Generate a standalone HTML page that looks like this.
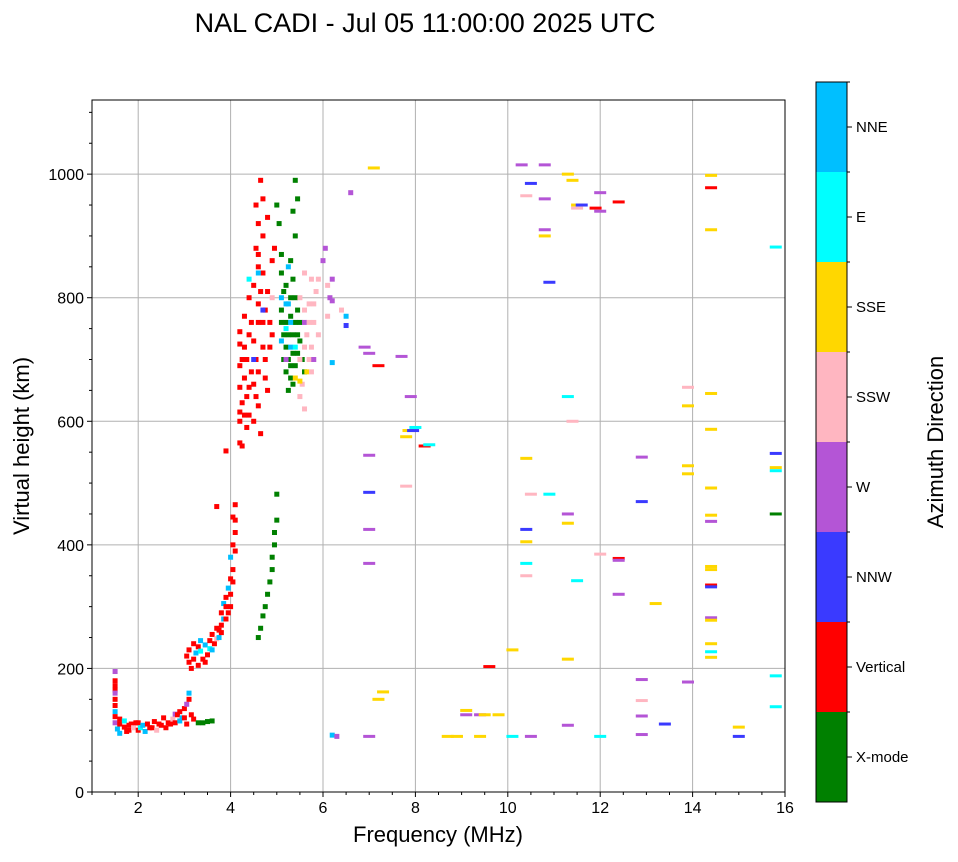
<!DOCTYPE html>
<html><head><meta charset="utf-8"><style>
body{margin:0;background:#fff;font-family:"Liberation Sans",sans-serif}
svg text{font-family:"Liberation Sans",sans-serif;fill:#000}
</style></head><body>
<svg id="chart" width="958" height="857" xmlns="http://www.w3.org/2000/svg">
<rect width="958" height="857" fill="#fff"/>
<text x="425" y="32" font-size="27" text-anchor="middle">NAL CADI - Jul 05 11:00:00 2025 UTC</text>
<g id="grid"></g>
<g id="marks"></g>
<rect x="92" y="100" width="693" height="692" fill="none" stroke="#000" stroke-width="1"/>
<g id="axes"></g>
<text x="438" y="842" font-size="22" text-anchor="middle">Frequency (MHz)</text>
<text transform="translate(29,446) rotate(-90)" font-size="22" text-anchor="middle">Virtual height (km)</text>
<g id="cbar"></g>
<text transform="translate(943,442) rotate(-90)" font-size="22" text-anchor="middle">Azimuth Direction</text>
</svg>
<script>
const xTicks=[2,4,6,8,10,12,14,16];
const yTicks=[0,200,400,600,800,1000];
const categories=["X-mode","Vertical","NNW","W","SSW","SSE","E","NNE"];
const catColors=["#008000","#ff0000","#3a3aff","#b455d6","#ffb6c1","#ffd700","#00ffff","#00bfff"];
// points: freq MHz, virtual height km, category index
const pointFreq=[];const pointHeight=[];const pointCat=[];
const raw=`1.5,195,3;1.5,180,1;1.5,172,1;1.5,165,1;1.5,160,3;1.5,150,1;1.5,140,1;1.5,130,7;1.5,122,1;1.5,112,3;1.55,102,7;1.6,95,7;1.6,110,1;1.6,118,1;1.7,105,1;1.7,115,6;1.75,98,1;1.8,100,1;1.8,108,1;1.85,110,1;1.9,104,4;1.95,112,1;2.0,100,1;2.0,112,1;2.05,104,6;2.1,108,7;2.15,98,7;2.2,110,1;2.25,104,1;2.3,104,1;2.35,114,1;2.4,100,4;2.45,110,1;2.5,108,1;2.55,120,1;2.6,104,1;2.65,112,1;2.7,110,1;2.75,118,4;2.8,112,1;2.8,126,3;2.85,125,1;2.9,115,7;2.9,130,1;2.95,120,7;3.0,120,1;3.0,135,1;3.05,142,3;3.05,110,1;3.1,150,1;3.1,160,7;3.15,125,1;3.2,118,1;3.3,112,0;3.4,112,0;3.5,114,0;3.6,115,0;3.05,220,1;3.1,230,1;3.1,210,1;3.15,200,1;3.2,240,1;3.2,215,1;3.25,225,7;3.3,235,1;3.3,205,1;3.35,228,6;3.35,245,7;3.4,215,1;3.45,238,7;3.45,210,1;3.5,222,1;3.55,245,1;3.55,232,6;3.6,230,7;3.6,255,1;3.65,240,1;3.7,265,1;3.7,248,4;3.75,250,7;3.75,262,1;3.8,270,1;3.8,290,1;3.8,258,1;3.85,305,7;3.85,280,7;3.9,280,1;3.9,315,1;3.9,300,1;3.95,330,7;3.95,290,1;4.0,300,1;4.0,345,1;4.0,320,1;4.05,360,1;4.0,380,7;4.05,340,1;4.05,400,1;4.1,420,1;4.1,390,1;4.05,445,1;4.1,465,1;4.1,440,1;3.7,462,1;3.9,552,1;4.2,600,1;4.2,615,1;4.25,630,1;4.2,655,1;4.3,670,1;4.25,700,1;4.3,720,1;4.2,745,1;4.3,770,1;4.2,565,1;4.35,640,1;4.4,610,1;4.45,680,1;4.5,660,1;4.55,700,1;4.5,730,1;4.6,625,1;4.45,760,1;4.6,790,1;4.5,820,1;4.6,850,1;4.55,880,1;4.6,920,1;4.55,950,1;4.65,990,1;4.7,900,1;4.7,760,1;4.75,700,1;4.4,800,1;4.35,590,1;4.25,560,1;4.65,580,1;4.8,650,1;4.85,720,1;4.9,800,4;4.9,860,1;4.95,880,1;4.8,930,1;4.2,690,1;4.3,610,1;4.35,700,1;4.2,725,1;4.4,655,1;4.4,740,1;4.5,600,1;4.55,640,1;4.6,680,1;4.7,720,1;4.65,810,1;4.6,760,1;4.7,840,1;4.6,870,1;4.7,960,1;4.75,780,1;4.8,810,1;4.85,760,1;4.9,740,1;4.75,670,1;4.5,700,2;4.7,780,2;4.4,830,6;4.6,840,7;4.6,250,0;4.65,265,0;4.7,285,0;4.75,300,0;4.8,320,0;4.85,340,0;4.9,360,0;4.9,380,0;4.95,400,0;4.95,420,0;5.0,440,0;5.0,482,0;5.0,950,0;5.05,920,0;5.1,870,0;5.1,840,0;5.15,810,0;5.1,780,0;5.2,760,0;5.15,740,0;5.2,720,0;5.25,700,0;5.2,680,0;5.3,670,0;5.35,660,0;5.4,690,0;5.45,710,0;5.35,740,0;5.3,770,0;5.4,800,0;5.35,830,0;5.3,860,0;5.4,900,0;5.35,940,0;5.4,990,0;5.45,960,0;5.5,760,0;5.5,730,0;5.55,700,0;5.6,680,0;5.1,760,0;5.15,700,0;5.25,740,0;5.3,800,0;5.2,820,0;5.4,760,0;5.45,780,0;5.35,710,0;5.3,690,0;5.45,740,0;5.25,650,0;5.1,730,7;5.2,790,7;5.3,760,7;5.25,790,7;5.2,750,6;5.3,720,7;5.1,800,7;5.4,720,6;5.25,850,7;5.2,700,3;5.5,640,4;5.6,620,4;5.55,660,4;5.65,680,5;5.7,700,4;5.75,720,4;5.65,740,4;5.8,760,4;5.7,790,4;5.85,810,4;5.6,840,4;5.9,830,4;5.75,680,4;5.8,700,3;5.9,740,4;5.6,760,3;5.6,720,4;5.7,760,4;5.5,700,4;5.6,780,4;5.8,790,4;5.75,830,4;5.5,800,4;6.0,860,3;6.05,880,3;6.1,820,4;6.15,800,3;6.2,795,3;6.1,770,4;6.2,830,3;6.4,780,4;6.5,770,7;6.5,755,2;6.2,695,7;6.6,970,3;5.4,670,5;5.5,665,5;6.2,92,7;6.3,90,3;6.9,720,3;7.0,710,3;7.0,545,3;7.0,485,2;7.0,425,3;7.0,370,3;7.0,90,3;7.1,1010,5;7.2,690,1;7.2,150,5;7.3,162,5;7.7,705,3;7.8,575,5;7.85,585,5;7.9,640,3;7.95,585,2;8.0,590,6;8.2,560,1;8.3,562,6;7.8,495,4;8.7,90,5;8.9,90,5;9.1,125,3;9.1,132,5;9.4,125,3;9.5,125,5;9.8,125,5;9.4,90,5;9.6,203,1;10.1,230,5;10.1,90,6;10.3,1015,3;10.4,965,4;10.5,985,2;10.4,540,5;10.4,425,2;10.4,405,5;10.4,370,6;10.4,350,4;10.5,482,4;10.5,90,3;10.8,1015,3;10.8,960,3;10.8,910,3;10.8,900,5;10.9,825,2;10.9,482,6;11.3,1000,5;11.4,990,5;11.5,950,5;11.5,945,4;11.6,950,2;11.3,640,6;11.4,600,4;11.3,450,3;11.3,435,5;11.3,215,5;11.3,108,3;11.5,342,6;11.9,945,1;12.0,940,3;12.0,970,3;12.0,385,4;12.0,90,6;12.4,955,1;12.4,378,1;12.4,375,3;12.4,320,3;12.9,542,3;12.9,470,2;12.9,182,3;12.9,148,4;12.9,123,3;12.9,93,3;13.2,305,5;13.4,110,2;13.9,655,4;13.9,625,5;13.9,528,5;13.9,515,5;13.9,178,3;14.4,998,5;14.4,978,1;14.4,910,5;14.4,645,5;14.4,587,5;14.4,492,5;14.4,448,5;14.4,438,3;14.4,365,5;14.4,360,5;14.4,335,1;14.4,332,2;14.4,282,3;14.4,278,5;14.4,240,5;14.4,227,6;14.4,218,5;15.0,105,5;15.0,90,2;15.8,882,6;15.8,548,2;15.8,525,5;15.8,520,6;15.8,450,0;15.8,188,6;15.8,138,6`;
raw.split(";").forEach(s=>{const p=s.split(",").map(Number);pointFreq.push(p[0]);pointHeight.push(p[1]);pointCat.push(p[2]);});
const X0=92,X1=785,Y0=792,Y1=100,FMIN=1,FMAX=16,HMAX=1120;
const xs=f=>X0+(f-FMIN)/(FMAX-FMIN)*(X1-X0);
const ys=h=>Y0-h/HMAX*(Y0-Y1);
const NS="http://www.w3.org/2000/svg";
function mk(tag,attrs,parent){const e=document.createElementNS(NS,tag);for(const k in attrs)e.setAttribute(k,attrs[k]);parent.appendChild(e);return e;}
const grid=document.getElementById("grid"),axes=document.getElementById("axes"),marks=document.getElementById("marks"),cbar=document.getElementById("cbar");
xTicks.forEach(t=>{const x=xs(t);
 const g=mk("line",{x1:x,x2:x,y1:Y1,y2:Y0,stroke:"#b0b0b0","stroke-width":1},grid);
 
 
 mk("line",{x1:x,x2:x,y1:Y0,y2:Y0+5,stroke:"#000"},axes);
 const tx=mk("text",{x:x,y:Y0+21,"font-size":16,"text-anchor":"middle"},axes);tx.textContent=t;
 
 });
for(let t=1;t<16;t+=0.5){if(!xTicks.includes(t))mk("line",{x1:xs(t),x2:xs(t),y1:Y0,y2:Y0+3,stroke:"#000"},axes);}
yTicks.forEach(t=>{const y=ys(t);
 const g=mk("line",{x1:X0,x2:X1,y1:y,y2:y,stroke:"#b0b0b0","stroke-width":1},grid);
 
 
 mk("line",{x1:X0-5,x2:X0,y1:y,y2:y,stroke:"#000"},axes);
 const tx=mk("text",{x:X0-8,y:y+6,"font-size":16,"text-anchor":"end"},axes);tx.textContent=t;
 
 });
for(let t=50;t<1120;t+=50){if(t%200)mk("line",{x1:X0-3,x2:X0,y1:ys(t),y2:ys(t),stroke:"#000"},axes);}
pointFreq.forEach((f,i)=>{const sparse=f>6.6;const w=sparse?12:5,h=sparse?3:5;
 const r=mk("rect",{x:xs(f)-w/2,y:ys(pointHeight[i])-h/2,width:w,height:h,fill:catColors[pointCat[i]]},marks);
 
 });
const CB_X=816,CB_W=31,CB_T=82,CB_B=802,seg=(CB_B-CB_T)/categories.length;
categories.forEach((c,i)=>{const y=CB_B-(i+1)*seg;
 const r=mk("rect",{x:CB_X,y:y,width:CB_W,height:seg,fill:catColors[i]},cbar);
 
 
 mk("line",{x1:CB_X+CB_W,x2:CB_X+CB_W+5,y1:y+seg/2,y2:y+seg/2,stroke:"#000"},cbar);
 mk("line",{x1:CB_X+CB_W,x2:CB_X+CB_W+3,y1:y,y2:y,stroke:"#000"},cbar);
 const t=mk("text",{x:CB_X+CB_W+9,y:y+seg/2+5,"font-size":15},cbar);t.textContent=c;
 
 });
mk("rect",{x:CB_X,y:CB_T,width:CB_W,height:CB_B-CB_T,fill:"none",stroke:"#000"},cbar);
</script>
</body></html>
